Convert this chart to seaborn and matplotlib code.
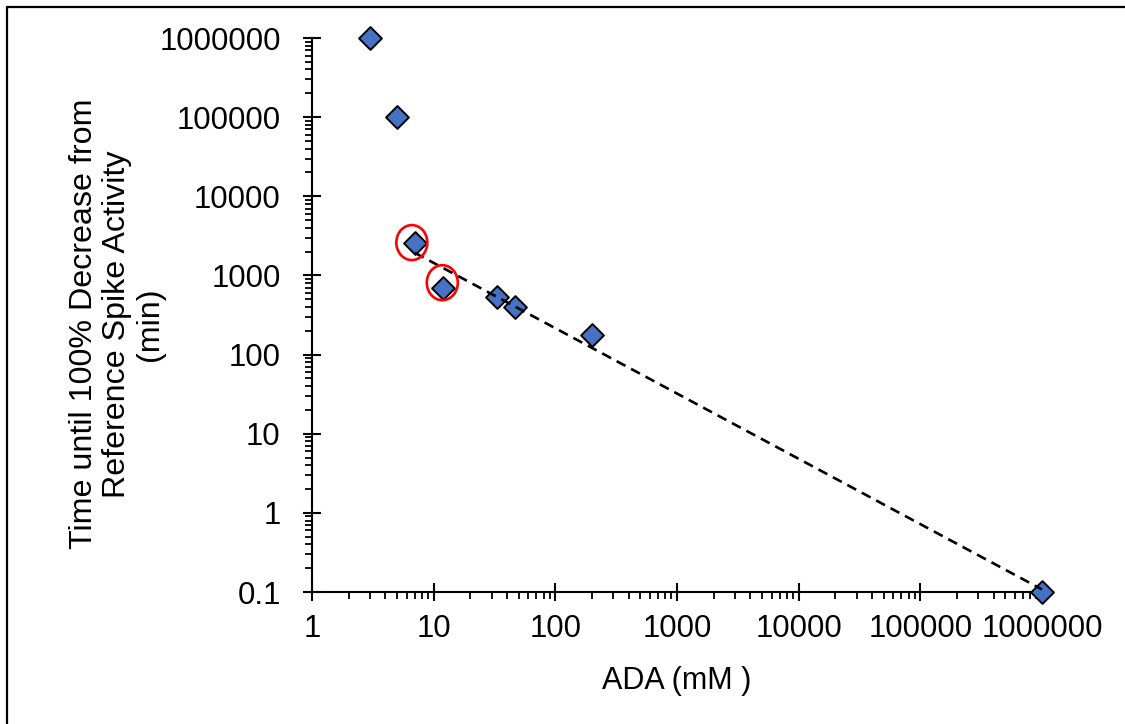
import numpy as np
import pandas as pd
import matplotlib
matplotlib.use("Agg")
import matplotlib.pyplot as plt
import matplotlib.ticker as mticker
import matplotlib.transforms as mtransforms
from matplotlib.patches import Ellipse
from matplotlib.lines import Line2D
import seaborn as sns

# ADA concentration vs. time to full loss of reference spike activity
ada_conc = [3, 5, 7, 12, 33, 47, 200, 1000000]
time_min = [1000000, 100000, 2600, 700, 530, 400, 175, 0.1]
# indices of the points used for the power-law trendline
fit_idx = [2, 3, 4, 5, 6, 7]
# points highlighted with red rings
ringed_idx = [2, 3]

x_ticks = [1, 10, 100, 1000, 10000, 100000, 1000000]
y_ticks = [0.1, 1, 10, 100, 1000, 10000, 100000, 1000000]

x_label = "ADA (mM )"
y_label = "Time until 100% Decrease from\nReference Spike Activity\n(min)"

sns.set_style("ticks")
plt.rcParams["font.family"] = ["Liberation Sans", "DejaVu Sans"]
plt.rcParams["text.color"] = "black"
plt.rcParams["axes.labelcolor"] = "black"

W, H = 1125, 724
fig = plt.figure(figsize=(W / 100, H / 100), dpi=100)
ax = fig.add_axes([312 / W, 1 - 592 / H, (1042 - 312) / W, (592 - 38) / H])

df = pd.DataFrame({"ada": ada_conc, "time": time_min})

sns.scatterplot(data=df, x="ada", y="time", marker="D", s=135,
                color="#4472C4", edgecolor="black", linewidth=1.4,
                zorder=3, clip_on=False, ax=ax)

# power-law trendline: straight line fitted in log-log space
fit = df.iloc[fit_idx]
slope, intercept = np.polyfit(np.log10(fit["ada"]), np.log10(fit["time"]), 1)
xf = np.geomspace(fit["ada"].min(), fit["ada"].max(), 50)
trend = pd.DataFrame({"ada": xf, "time": 10 ** (intercept + slope * np.log10(xf))})
sns.lineplot(data=trend, x="ada", y="time", color="black", linewidth=1.9,
             linestyle=(0, (3.8, 2.4)), estimator=None, sort=False,
             zorder=4, clip_on=False, ax=ax)

ax.set_xscale("log")
ax.set_yscale("log")
ax.set_xlim(1, 1e6)
ax.set_ylim(0.1, 1e6)

# red rings drawn in screen units around selected points
ring_offsets = [(-3, 0), (-1, 5)]
for (dx, dy), i in zip(ring_offsets, ringed_idx):
    trans = fig.dpi_scale_trans + mtransforms.ScaledTranslation(
        ada_conc[i], time_min[i], ax.transData)
    ring = Ellipse((dx / 100, dy / 100), width=0.31, height=0.35,
                   fill=False, edgecolor="red", linewidth=1.9,
                   transform=trans, zorder=5, clip_on=False)
    ax.add_patch(ring)


def plain(v, pos=None):
    return f"{int(v)}" if v >= 1 else f"{v:g}"


for axis, ticks in ((ax.xaxis, x_ticks), (ax.yaxis, y_ticks)):
    axis.set_major_locator(mticker.FixedLocator(ticks))
    axis.set_major_formatter(mticker.FuncFormatter(plain))
    axis.set_minor_locator(mticker.LogLocator(base=10, subs=np.arange(2, 10), numticks=100))
    axis.set_minor_formatter(mticker.NullFormatter())

ax.tick_params(which="major", direction="inout", length=13, width=1.5,
               color="black", labelsize=22.4, labelcolor="black")
ax.tick_params(which="minor", direction="out", length=5, width=1.3, color="black")
ax.tick_params(axis="x", which="major", pad=9)
ax.tick_params(axis="y", which="major", pad=16)

sns.despine(ax=ax)
for side in ("left", "bottom"):
    ax.spines[side].set_linewidth(1.5)
    ax.spines[side].set_color("black")

ax.set_xlabel(x_label, fontsize=22, va="center")
ax.xaxis.set_label_coords(0.5, -(681 - 592) / (592 - 38))
ax.set_ylabel("")
ax.text(-(312 - 117) / (1042 - 312), (592 - 324) / (592 - 38), y_label,
        transform=ax.transAxes, rotation=90, ha="center", va="center",
        multialignment="center", fontsize=23.2, linespacing=1.12)

# frame on the left and top edges of the figure
fig.add_artist(Line2D([7 / W, 7 / W], [0, 1 - 7 / H], transform=fig.transFigure,
                      color="black", linewidth=1.6))
fig.add_artist(Line2D([7 / W, 1], [1 - 7 / H, 1 - 7 / H], transform=fig.transFigure,
                      color="black", linewidth=1.6))

fig.savefig("out.png", dpi=100)
